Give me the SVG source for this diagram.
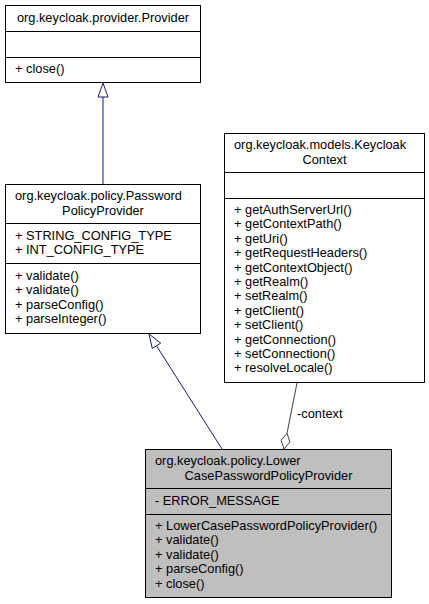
<svg xmlns="http://www.w3.org/2000/svg" width="429" height="604" viewBox="0 0 429 604">
<style>
.box{fill:#ffffff;stroke:#000000;stroke-width:1}
.cur{fill:#bfbfbf;stroke:#000000;stroke-width:1}
.div{stroke:#000000;stroke-width:1}
text{font-family:"Liberation Sans",Arial,sans-serif;font-size:12.8px;fill:#000000}
.c{text-anchor:middle}
.inh{stroke:#191970;stroke-width:1;fill:none}
.inhh{stroke:#191970;stroke-width:1;fill:#ffffff}
.agg{stroke:#404040;stroke-width:1;fill:none}
.aggh{stroke:#404040;stroke-width:1;fill:#ffffff}
</style>
<rect width="429" height="604" fill="#ffffff"/>
<g id="connectors">
  <line class="inh" x1="103" y1="97" x2="103" y2="184"/>
  <polygon class="inhh" points="103,83 98,97 108,97"/>
  <line class="inh" x1="222" y1="449" x2="156.5" y2="345.8"/>
  <polygon class="inhh" points="149,334 152.3,348.5 160.7,343.1"/>
  <line class="agg" x1="297" y1="383" x2="287" y2="433.3"/>
  <polygon class="aggh" points="287,433.3 289.9,442 284,449 281.1,440.3"/>
  <text x="297" y="418">-context</text>
</g>
<g id="node-provider">
  <rect class="box" x="5.5" y="5.5" width="195" height="77"/>
  <line class="div" x1="5.5" y1="31.5" x2="200.5" y2="31.5"/>
  <line class="div" x1="5.5" y1="57.5" x2="200.5" y2="57.5"/>
  <text class="c" x="103" y="21.5">org.keycloak.provider.Provider</text>
  <text x="15" y="73">+ close()</text>
</g>
<g id="node-passwordpolicyprovider">
  <rect class="box" x="5.5" y="184.5" width="195" height="149"/>
  <line class="div" x1="5.5" y1="223.5" x2="200.5" y2="223.5"/>
  <line class="div" x1="5.5" y1="263.5" x2="200.5" y2="263.5"/>
  <text x="15" y="200">org.keycloak.policy.Password</text>
  <text class="c" x="103" y="214.5">PolicyProvider</text>
  <text x="15" y="239.5">+ STRING_CONFIG_TYPE</text>
  <text x="15" y="254">+ INT_CONFIG_TYPE</text>
  <text x="15" y="279.5">+ validate()</text>
  <text x="15" y="294">+ validate()</text>
  <text x="15" y="308.5">+ parseConfig()</text>
  <text x="15" y="323">+ parseInteger()</text>
</g>
<g id="node-keycloakcontext">
  <rect class="box" x="224.5" y="133.5" width="200" height="249"/>
  <line class="div" x1="224.5" y1="172.5" x2="424.5" y2="172.5"/>
  <line class="div" x1="224.5" y1="198.5" x2="424.5" y2="198.5"/>
  <text x="234" y="149">org.keycloak.models.Keycloak</text>
  <text class="c" x="324.5" y="163.5">Context</text>
  <text x="234" y="214">+ getAuthServerUrl()</text>
  <text x="234" y="228.4">+ getContextPath()</text>
  <text x="234" y="242.8">+ getUri()</text>
  <text x="234" y="257.2">+ getRequestHeaders()</text>
  <text x="234" y="271.6">+ getContextObject()</text>
  <text x="234" y="286">+ getRealm()</text>
  <text x="234" y="300.4">+ setRealm()</text>
  <text x="234" y="314.8">+ getClient()</text>
  <text x="234" y="329.2">+ setClient()</text>
  <text x="234" y="343.6">+ getConnection()</text>
  <text x="234" y="358">+ setConnection()</text>
  <text x="234" y="372.4">+ resolveLocale()</text>
</g>
<g id="node-lowercasepasswordpolicyprovider">
  <rect class="cur" x="145.5" y="449.5" width="246" height="148"/>
  <line class="div" x1="145.5" y1="488.5" x2="391.5" y2="488.5"/>
  <line class="div" x1="145.5" y1="514.5" x2="391.5" y2="514.5"/>
  <text x="155" y="465">org.keycloak.policy.Lower</text>
  <text class="c" x="268.5" y="479.5">CasePasswordPolicyProvider</text>
  <text x="155" y="504.5">- ERROR_MESSAGE</text>
  <text x="155" y="530">+ LowerCasePasswordPolicyProvider()</text>
  <text x="155" y="544.4">+ validate()</text>
  <text x="155" y="558.8">+ validate()</text>
  <text x="155" y="573.2">+ parseConfig()</text>
  <text x="155" y="587.6">+ close()</text>
</g>
</svg>
